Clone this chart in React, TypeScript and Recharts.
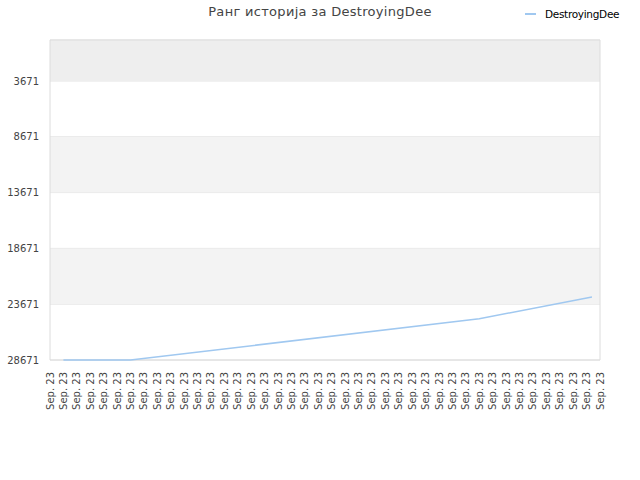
import React from 'react';
import {
  LineChart,
  Line,
  XAxis,
  YAxis,
  CartesianGrid,
  ReferenceArea,
} from 'recharts';

const dayIndex = [1, 6, 32, 40.4];
const rankValues = [28671, 28671, 24970, 23030];
const tickDays = Array.from({ length: 42 }, (_, i) => i);
const dayLabel = 'Sep. 23';
const rankTicks = [3671, 8671, 13671, 18671, 23671, 28671];
const seriesName = 'DestroyingDee';
const title = 'Ранг историја за DestroyingDee';

const data = dayIndex.map((x, i) => ({ x, rank: rankValues[i] }));

const FONT = '"DejaVu Sans", sans-serif';
const LINE_COLOR = '#a0c8f0';

const DayTick = ({ x, y }: any) => (
  <g transform={`translate(${x},${y + 4})`}>
    <text
      transform="rotate(-90)"
      textAnchor="end"
      dy="0.35em"
      fontFamily={FONT}
      fontSize={10}
      fill="#444"
    >
      {dayLabel}
    </text>
  </g>
);

export default function App() {
  return (
    <div style={{ position: 'absolute', left: 0, top: 0, width: 640, height: 480, background: '#fff' }}>
      <div
        style={{
          position: 'absolute',
          left: 0,
          width: 640,
          top: 4,
          textAlign: 'center',
          fontFamily: FONT,
          fontSize: 13,
          letterSpacing: 0.3,
          color: '#444',
          zIndex: 2,
        }}
      >
        {title}
      </div>
      <div
        style={{
          position: 'absolute',
          left: 525,
          top: 8,
          display: 'flex',
          alignItems: 'center',
          fontFamily: FONT,
          fontSize: 10.5,
          letterSpacing: -0.3,
          color: '#000',
          zIndex: 2,
        }}
      >
        <span style={{ display: 'inline-block', width: 11, height: 2, background: LINE_COLOR, marginRight: 9 }} />
        {seriesName}
      </div>
      <LineChart width={640} height={480} data={data} margin={{ top: 40, right: 40, bottom: 0, left: 0 }}>
        <ReferenceArea y1={0} y2={3671} fill="#eeeeee" fillOpacity={1} stroke="none" ifOverflow="hidden" />
        <ReferenceArea y1={8671} y2={13671} fill="#f3f3f3" fillOpacity={1} stroke="none" />
        <ReferenceArea y1={18671} y2={23671} fill="#f3f3f3" fillOpacity={1} stroke="none" />
        <CartesianGrid vertical={false} stroke="#e2e2e2" />
        <ReferenceArea y1={0} y2={28671} fill="none" stroke="#dcdcdc" strokeWidth={1} />
        <XAxis
          dataKey="x"
          type="number"
          domain={[0, 41]}
          ticks={tickDays}
          interval={0}
          height={120}
          axisLine={false}
          tickLine={false}
          tick={<DayTick />}
        />
        <YAxis
          reversed
          type="number"
          domain={[0, 28671]}
          ticks={rankTicks}
          width={50}
          axisLine={false}
          tickLine={false}
          tickMargin={5}
          tick={{ fontFamily: FONT, fontSize: 10, fill: '#444' }}
        />
        <Line
          type="linear"
          dataKey="rank"
          name={seriesName}
          stroke={LINE_COLOR}
          strokeWidth={1.5}
          dot={false}
          isAnimationActive={false}
        />
      </LineChart>
    </div>
  );
}
